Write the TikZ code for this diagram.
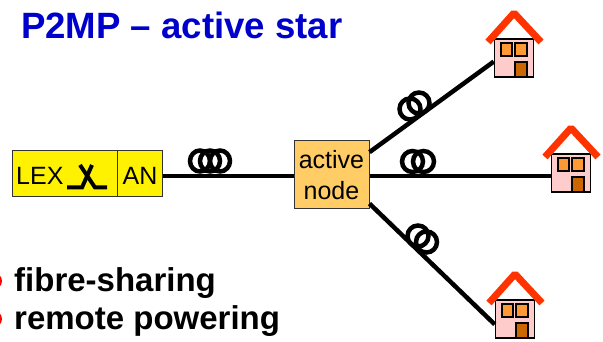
\documentclass[tikz,border=0pt]{standalone}
\usepackage{fontspec}
\setmainfont{Liberation Sans}
\definecolor{roofred}{RGB}{255,51,0}
\definecolor{wallpink}{RGB}{255,204,204}
\definecolor{winorange}{RGB}{255,153,51}
\definecolor{doorbrown}{RGB}{204,102,0}
\definecolor{nodeorange}{RGB}{255,204,102}
\tikzset{%
        x = 1pt,
        y = -1pt,
        fibre/.style = {draw = black, line width = 4.5pt},
        coil/.style = {draw = black, line width = 4.5pt},
        box/.style = {
            draw = black!80,
            line width = 1pt,
            inner sep = 0pt,
            font = \fontsize{25}{29}\selectfont
        },
        heading/.style = {
            anchor = base west,
            inner sep = 0pt,
            font = \fontsize{33}{38}\selectfont\bfseries
        },
        wall/.style = {
            draw = black,
            line width = 1.5pt,
            fill = wallpink,
            inner sep = 0pt,
            minimum width = 39pt,
            minimum height = 38pt
        },
        pane/.style = {draw = black, line width = 1.2pt, fill = winorange},
        house/.pic = {
            \node[wall] (-body) at (20, 19) {};
            \draw[line width = 7pt, roofred, line join = bevel]
                (-6, 3) -- (20, -26) -- (47, 3);
            \draw[pane] (7, 4) rectangle (18, 17);
            \draw[pane] (21, 4) rectangle (33, 17);
            \draw[pane, fill = doorbrown] (21, 23) rectangle (33, 38);
        }
}

\begin{document}
\begin{tikzpicture}
            \useasboundingbox (0, 0) rectangle (603, 342);
            \clip (0, 0) rectangle (603, 342);

            \node[heading, font = \fontsize{36.6}{40}\selectfont\bfseries, text = blue!80!black] (title) at (21, 39) {P2MP – active star};
            \node[heading] (item1) at (14, 291) {fibre-sharing};
            \node[heading] (item2) at (14, 329) {remote powering};
            \fill[red] (-6, 281) circle (8);
            \fill[red] (-6, 319) circle (8);

            \node[box, fill = yellow, minimum width = 105pt, minimum height = 46pt] (lex) at (65, 174) {};
            \node[box, fill = yellow, minimum width = 45pt, minimum height = 46pt] (an) at (140, 174) {};
            \node[box, fill = nodeorange, align = center, minimum width = 75pt, minimum height = 68pt] (active) at (331.5, 175) {active\\[2pt]node};
            \node[anchor = base west, inner sep = 0pt, font = \fontsize{25}{29}\selectfont] (lexlabel) at (16, 185) {LEX};
            \node[anchor = base, inner sep = 0pt, font = \fontsize{25}{29}\selectfont] (anlabel) at (140, 185) {AN};
            \draw[line width = 4pt] (67, 187.5) -- (82, 187.5) -- (92, 165);
            \draw[line width = 4pt] (80, 165) -- (95, 187.5) -- (107, 187.5);

            \pic (h1) at (494, 39) {house};
            \pic (h2) at (551, 154) {house};
            \pic (h3) at (495, 300) {house};

            \coordinate (trunk) at (0, 176);
            \draw[fibre] (an.east |- trunk) -- (active.west |- trunk);
            \draw[fibre] (active.east |- trunk) -- (h2-body.west |- trunk);
            \draw[fibre] (active.31.5) -- (h1-body.190);
            \draw[fibre] (active.-37) -- (h3-body.195);

            % coils
            \foreach \cx in {200, 210, 220}
                \draw[coil] (\cx, 161) ellipse (10 and 10.5);
            \foreach \cx in {412.5, 423.5}
                \draw[coil] (\cx, 161.5) circle (10.5);
            \foreach \cx/\cy in {410/109, 419/103}
                \draw[coil] (\cx, \cy) circle (10.5);
            \foreach \cx/\cy in {418/236, 426.5/242}
                \draw[coil] (\cx, \cy) circle (10.5);
        \end{tikzpicture}
\end{document}
